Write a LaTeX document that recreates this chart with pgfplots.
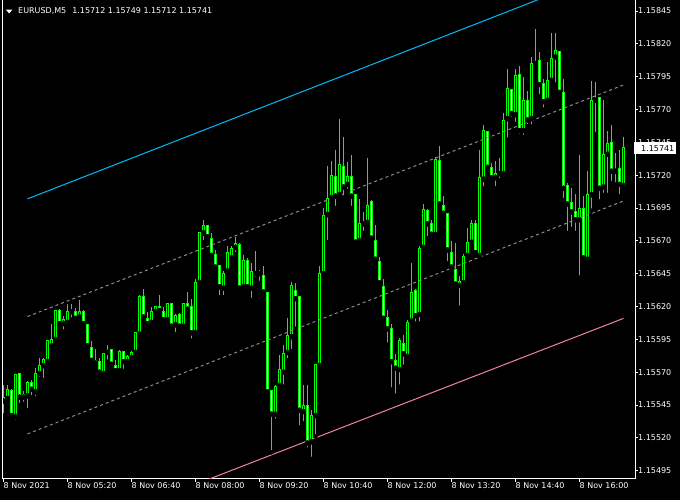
\documentclass[border=0pt]{standalone}
\usepackage{pgfplots}
\pgfplotsset{compat=1.18}
\usepackage{pgfplotstable}
\usepackage{fontspec}
\setmainfont{DejaVu Sans}
\definecolor{cgreen}{RGB}{0,255,0}
\definecolor{cblue}{RGB}{0,185,255}
\definecolor{cpink}{RGB}{240,130,170}
\definecolor{cdash}{RGB}{140,140,140}

\pgfplotstableread{
i o h l c
0 548 560 537 551
1 550 560 548 557
2 556 557 536 537
3 536 569 532 568
4 569 569 545 551
5 551 556 546 553
6 552 563 541 562
7 562 564 551 557
8 555 573 550 569
9 569 581 565 575
10 575 581 564 580
11 578 594 578 594
12 590 607 587 595
13 595 617 595 617
14 617 618 606 607
15 607 613 601 610
16 608 622 608 616
17 616 622 610 617
18 616 619 610 611
19 612 625 611 616
20 616 617 606 607
21 606 606 588 590
22 589 594 577 579
23 579 588 574 577
24 578 581 569 570
25 569 585 569 584
26 585 591 578 586
27 587 588 575 576
28 575 579 571 571
29 571 587 571 586
30 586 586 571 578
31 578 583 575 582
32 581 586 579 585
33 585 600 584 600
34 599 629 597 628
35 628 633 610 612
36 611 616 604 607
37 608 620 605 616
38 616 620 614 620
39 620 629 615 617
40 616 620 607 610
41 610 623 609 622
42 622 622 605 605
43 606 614 599 613
44 614 615 604 605
45 605 622 605 622
46 622 631 617 618
47 620 626 594 600
48 600 641 600 638
49 638 677 636 676
50 676 686 669 682
51 682 682 672 673
52 672 676 655 659
53 660 663 649 650
54 651 652 627 635
55 634 647 627 645
56 647 666 644 661
57 657 666 655 664
58 665 673 660 668
59 667 668 634 634
60 635 659 634 655
61 655 657 634 635
62 634 653 625 647
63 646 662 641 645
64 645 648 638 645
65 644 651 630 631
66 631 631 555 555
67 556 556 509 538
68 538 560 533 559
69 560 583 559 572
70 570 591 559 584
71 585 611 579 598
72 597 639 586 636
73 632 638 603 626
74 628 628 528 541
75 540 560 531 545
76 545 560 511 516
77 517 541 504 537
78 537 576 521 576
79 575 651 574 645
80 645 695 644 689
81 690 727 669 702
82 703 731 703 720
83 719 739 695 704
84 705 763 704 728
85 727 749 703 711
86 713 730 708 719
87 719 735 695 704
88 705 705 666 669
89 670 702 669 683
90 683 692 676 685
91 684 733 683 697
92 700 701 671 672
93 670 682 656 656
94 654 658 635 638
95 635 641 608 611
96 612 617 591 603
97 603 607 557 578
98 579 584 552 573
99 572 596 559 594
100 592 598 574 584
101 582 610 579 608
102 609 653 608 631
103 632 633 607 613
104 614 666 607 664
105 665 698 664 694
106 693 694 672 683
107 683 686 671 675
108 675 734 674 732
109 731 742 697 698
110 697 704 688 691
111 691 691 653 663
112 661 670 646 650
113 648 668 635 637
114 636 643 619 639
115 638 660 637 658
116 659 680 658 669
117 669 686 668 683
118 683 686 660 661
119 659 739 658 718
120 717 758 710 754
121 753 754 725 726
122 726 729 715 718
123 718 731 710 721
124 721 733 716 722
125 721 767 719 762
126 763 801 747 786
127 785 786 763 767
128 766 801 759 796
129 797 803 750 754
130 754 795 749 777
131 777 784 757 762
132 763 810 757 805
133 805 831 804 806
134 807 814 780 789
135 790 793 770 776
136 777 806 776 792
137 792 828 789 809
138 810 828 789 815
139 814 814 780 783
140 783 793 701 710
141 712 714 676 698
142 699 710 679 692
143 692 706 676 686
144 686 735 642 695
145 695 704 655 657
146 656 723 653 705
147 705 792 693 777
148 777 791 751 778
149 779 779 700 710
150 711 777 705 736
151 736 754 705 744
152 745 758 714 723
153 723 737 713 724
154 725 739 704 713
155 712 749 712 741
}\candles
\pgfplotstablecreatecol[create col/expr={\thisrow{h}-\thisrow{l}}]{wick}{\candles}
\pgfplotstablecreatecol[create col/expr={min(\thisrow{o},\thisrow{c})-0.38}]{blo}{\candles}
\pgfplotstablecreatecol[create col/expr={abs(\thisrow{c}-\thisrow{o})+0.76}]{blen}{\candles}
\pgfplotstablecreatecol[create col/expr={min(\thisrow{o},\thisrow{c})+0.38}]{ilo}{\candles}
\pgfplotstablecreatecol[create col/expr={max(\thisrow{o}-\thisrow{c}-0.76,0)}]{bear}{\candles}
\pgfplotstablecreatecol[create col/expr={max(\thisrow{c}-\thisrow{o}-0.76,0)}]{bull}{\candles}

\begin{document}
\begin{tikzpicture}
\fontsize{8}{9.6}\selectfont
\path[use as bounding box, fill=black] (0pt,0pt) rectangle (680pt,500pt);
\begin{axis}[
  at={(2pt,21pt)}, anchor=south west,
  scale only axis, width=633pt, height=479pt,
  xmin=-0.375, xmax=157.875, ymin=488.7, ymax=853.4,
  axis x line*=bottom, axis y line*=right,
  axis line style={white, line width=1pt},
  tick style={white, line width=1pt},
  tick align=outside, major tick length=3pt,
  xtick={0,16,32,48,64,80,96,112,128,144},
  xticklabels={8 Nov 2021, 8 Nov 05:20, 8 Nov 06:40, 8 Nov 08:00, 8 Nov 09:20, 8 Nov 10:40, 8 Nov 12:00, 8 Nov 13:20, 8 Nov 14:40, 8 Nov 16:00},
  ytick={495,520,545,570,595,620,645,670,695,720,745,770,795,820,845},
  yticklabels={1.15495,1.15520,1.15545,1.15570,1.15595,1.15620,1.15645,1.15670,1.15695,1.15720,1.15745,1.15770,1.15795,1.15820,1.15845},
  xticklabel style={anchor=north west, inner sep=0pt, text=white, font=\fontsize{8}{9.6}\selectfont},
  yticklabel style={anchor=west, inner sep=0pt, text=white, font=\fontsize{8}{9.6}\selectfont},
  clip=true,
  every axis plot/.append style={line cap=butt},
]
% wicks
\addplot[only marks, mark=none, forget plot,
  error bars/.cd, y dir=plus, y explicit, error mark=none,
  error bar style={draw=cgreen, line width=1pt}]
  table[x=i, y=l, y error=wick] {\candles};
% body outlines
\addplot[only marks, mark=none, forget plot,
  error bars/.cd, y dir=plus, y explicit, error mark=none,
  error bar style={draw=cgreen, line width=3pt}]
  table[x=i, y=blo, y error=blen] {\candles};
% bear fill (white)
\addplot[only marks, mark=none, forget plot,
  error bars/.cd, y dir=plus, y explicit, error mark=none,
  error bar style={draw=white, line width=1pt}]
  table[x=i, y=ilo, y error=bear] {\candles};
% bull fill (black)
\addplot[only marks, mark=none, forget plot,
  error bars/.cd, y dir=plus, y explicit, error mark=none,
  error bar style={draw=black, line width=1pt}]
  table[x=i, y=ilo, y error=bull] {\candles};
% channel
\addplot[cblue, line width=1pt] coordinates {(6,702) (155,879)};
\addplot[cdash, line width=1pt, dash pattern=on 3pt off 3pt] coordinates {(6,612.4) (155,788.7)};
\addplot[cdash, line width=1pt, dash pattern=on 3pt off 3pt] coordinates {(6,523) (155,700.4)};
\addplot[cpink, line width=1pt] coordinates {(6,435) (155,611)};
\end{axis}
\draw[white, line width=1pt] (2pt,21pt) -- (2pt,500pt);
\fill[white] (6pt,490.3pt) -- (12.3pt,490.3pt) -- (9.15pt,486.5pt) -- cycle;
\node[anchor=base west, inner sep=0pt, text=white] at (18pt,486pt) {EURUSD,M5\hspace{6pt}1.15712 1.15749 1.15712 1.15741};
\fill[white] (634pt,345.5pt) rectangle (676pt,358pt);
\node[anchor=west, inner sep=0pt, text=black] at (641pt,351.7pt) {1.15741};
\end{tikzpicture}
\end{document}
